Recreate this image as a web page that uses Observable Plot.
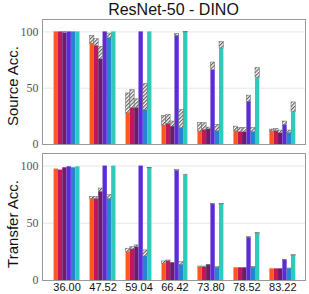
<!DOCTYPE html>
<html><head><meta charset="utf-8">
<script src="https://cdn.jsdelivr.net/npm/d3@7"></script>
<script src="https://cdn.jsdelivr.net/npm/@observablehq/plot@0.6"></script>
<style>
body{margin:0;background:#fff;width:309px;font-family:"Liberation Sans",Arial,sans-serif;}
#wrap{position:relative;width:309px;height:294px;}
#title{height:18px;line-height:19px;font-size:16px;text-align:center;padding-left:38px;color:#111;}
svg{display:block;overflow:visible;}
.ylab{position:absolute;left:12px;white-space:nowrap;font-size:15px;color:#111;transform:translate(-50%,-50%) rotate(-90deg);}
</style></head><body>
<div id="wrap">
<div id="title">ResNet-50 - DINO</div>
<div id="chart"></div>
<div class="ylab" id="lab1" style="top:86px">Source Acc.</div>
<div class="ylab" id="lab2" style="top:224px">Transfer Acc.</div>
</div>
<script>
const groups = ["36.00","47.52","59.04","66.42","73.80","78.52","83.22"];
const series = ["m1","m2","m3","m4","m5","m6"];
const colors = ["#ff5722","#c2185b","#6d1b6b","#5c2ad8","#2185d0","#2dcbbb"];

// Source accuracy: solid value and hatched top
const srcSolid = [
  [100, 89.6, 27.7, 16.8, 11.5, 11.8, 11.5],
  [100, 87.6, 32.5, 18.3, 13.0, 10.9, 11.8],
  [99,  75.8, 32.5, 15.9, 13.5, 10.9, 10.0],
  [100, 100,  100,  96.5, 66.0, 38.0, 17.4],
  [100, 94.4, 30.7, 14.7, 11.8, 10.9, 10.0],
  [100, 100,  100,  99.5, 85.2, 59.0, 28.6]
];
const srcHatch = [
  [100, 96.5, 45.4, 25.4, 18.9, 15.9, 13.3],
  [100, 93.5, 48.4, 26.3, 18.9, 14.7, 13.9],
  [100, 86.7, 40.1, 20.4, 15.0, 14.7, 12.4],
  [100, 100,  100,  98.0, 72.8, 43.4, 20.4],
  [100, 98.5, 53.7, 30.7, 17.4, 14.7, 12.4],
  [100, 100,  100,  100,  91.0, 67.9, 37.4]
];
// Transfer accuracy
const trSolid = [
  [97.4, 71.3, 24.9, 14.6, 11.7, 11.1, 10.2],
  [96.5, 71.3, 27.2, 16.7, 11.7, 11.1, 10.2],
  [98.5, 77.5, 29.2, 15.5, 13.2, 11.1, 10.2],
  [99.4, 100,  100,  95.9, 66.4, 37.4, 17.5],
  [98.5, 71.3, 21.0, 13.7, 11.1, 11.1, 10.2],
  [99.4, 100,  98.0, 92.0, 66.4, 41.0, 21.7]
];
const trHatch = [
  [97.4, 73.0, 27.8, 16.7, 12.2, 11.1, 10.2],
  [96.5, 73.0, 29.2, 17.5, 12.2, 11.1, 10.2],
  [98.5, 80.4, 30.7, 15.5, 13.5, 11.1, 10.2],
  [99.4, 100,  100,  96.6, 66.9, 38.0, 18.0],
  [98.5, 74.6, 26.3, 16.0, 11.6, 12.0, 10.5],
  [99.4, 100,  98.5, 92.5, 66.9, 41.5, 22.2]
];
const yTicks = [0, 50, 100];

const W = 0.12; // bar width in group units
function rows(solid, hatch) {
  const r = [];
  series.forEach((s, si) => groups.forEach((g, gi) => {
    r.push({gi, si, s, solid: solid[si][gi], hatch: hatch[si][gi]});
  }));
  return r;
}

const defs = `<defs><pattern id="hatch" patternUnits="userSpaceOnUse" width="2.6" height="2.6" patternTransform="rotate(45)"><rect width="2.6" height="2.6" fill="#fff"/><line x1="0.6" y1="0" x2="0.6" y2="2.6" stroke="#555" stroke-width="1.1"/></pattern></defs>`;

function panel(data, opts) {
  const svg = Plot.plot({
    width: 309,
    height: opts.height,
    marginLeft: 42, marginRight: 4,
    marginTop: opts.mt, marginBottom: opts.mb,
    x: {domain: [-0.683, 6.63], axis: null},
    y: {domain: [0, 111], axis: null},
    color: {domain: series, range: colors},
    style: {fontFamily: "Liberation Sans, Arial, sans-serif", background: "transparent", overflow: "visible"},
    marks: [
      Plot.ruleY([50, 100], {stroke: "#e8e8e8", strokeWidth: 1}),
      Plot.rect(data, {
        x1: d => d.gi + (d.si - 3) * W, x2: d => d.gi + (d.si - 2) * W,
        y1: 0, y2: "solid", fill: "s"
      }),
      Plot.rect(data.filter(d => d.hatch > d.solid + 0.1), {
        x1: d => d.gi + (d.si - 3) * W, x2: d => d.gi + (d.si - 2) * W,
        y1: "solid", y2: "hatch", fill: "url(#hatch)", stroke: "#666", strokeWidth: 0.5
      }),
      Plot.frame({stroke: "#999"}),
      Plot.axisY({ticks: yTicks, tickSize: 0, tickPadding: 4, fontSize: 12,
        fontFamily: "Liberation Serif, serif", fill: "#555", label: null}),
      opts.xaxis ? Plot.axisX({ticks: d3.range(groups.length), tickFormat: i => groups[i],
        tickSize: 0, tickPadding: 3, fontSize: 11, fill: "#111", label: null}) : null
    ]
  });
  svg.insertAdjacentHTML("afterbegin", defs);
  return svg;
}

const c = document.getElementById("chart");
c.appendChild(panel(rows(srcSolid, srcHatch), {height: 128, mt: 1, mb: 2, xaxis: false}));
c.appendChild(panel(rows(trSolid, trHatch), {height: 148, mt: 7, mb: 14, xaxis: true}));
</script>
</body></html>
